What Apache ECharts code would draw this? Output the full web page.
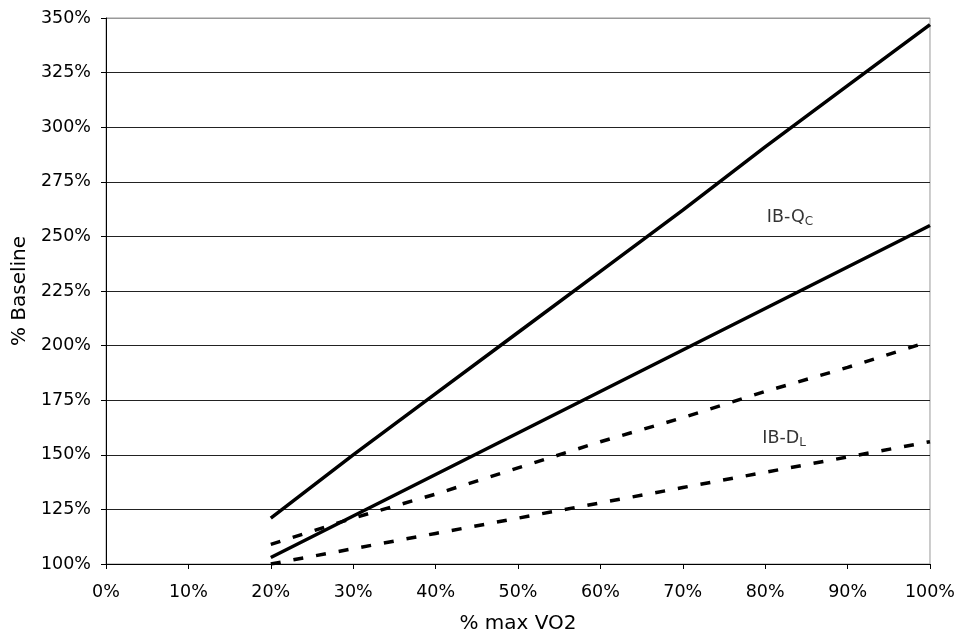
<!DOCTYPE html>
<html>
<head>
<meta charset="utf-8">
<script src="https://cdn.jsdelivr.net/npm/echarts@6/dist/echarts.min.js"></script>
<style>html,body{margin:0;padding:0;background:#fff}#c{width:958px;height:639px}</style>
</head>
<body>
<div id="c"></div>
<script>
const xValues = [20, 30, 40, 50, 60, 70, 80, 90, 100];
const solidUpper = [121, 150, 178, 206, 234, 262, 291, 319, 347];
const solidLower = [103, 122, 141, 160, 179, 198, 217, 236, 255];
const dashedUpper = [109, 121, 132, 144, 156, 167, 179, 190, 202];
const dashedLower = [100, 107, 114, 121, 128, 135, 142, 149, 156];
const annotations = [
  { x: 83, y: 258.5, main: 'IB-Q', sub: 'C' },
  { x: 82.3, y: 157.5, main: 'IB-D', sub: 'L' }
];
const xTitle = '% max VO2';
const yTitle = '% Baseline';

const font = 'DejaVu Sans, Verdana, sans-serif';
function pairs(vals) { return xValues.map((x, i) => [x, vals[i]]); }

const gridColors = ['#000', '#222', '#222', '#222', '#222', '#222', '#222', '#222', '#222', '#222', '#999'];

const chart = echarts.init(document.getElementById('c'));
chart.setOption({
  animation: false,
  grid: { left: 106, right: 27, top: 18, bottom: 72, show: true, borderColor: '#999', borderWidth: 1 },
  xAxis: {
    type: 'value', min: 0, max: 100, interval: 10,
    name: xTitle, nameLocation: 'middle', nameGap: 50,
    nameTextStyle: { fontFamily: font, fontSize: 20, color: '#000' },
    axisLine: { show: true, onZero: false, lineStyle: { color: '#000', width: 1 } },
    axisTick: { show: true, length: 5, lineStyle: { color: '#000' } },
    axisLabel: { formatter: v => v + '%', fontFamily: font, fontSize: 17.5, color: '#000', margin: 19 },
    splitLine: { show: false }
  },
  yAxis: {
    type: 'value', min: 100, max: 350, interval: 25,
    name: yTitle, nameLocation: 'middle', nameGap: 75,
    nameTextStyle: { fontFamily: font, fontSize: 20, color: '#000' },
    axisLine: { show: true, onZero: false, lineStyle: { color: '#000', width: 1 } },
    axisTick: { show: true, length: 5, lineStyle: { color: '#000' } },
    axisLabel: { formatter: v => v + '%', fontFamily: font, fontSize: 17.5, color: '#000', margin: 15 },
    splitLine: { show: true, lineStyle: { color: gridColors, width: 1 } }
  },
  series: [
    { type: 'line', data: pairs(solidUpper), symbol: 'none', lineStyle: { color: '#000', width: 3.5 } },
    { type: 'line', data: pairs(solidLower), symbol: 'none', lineStyle: { color: '#000', width: 3.5 } },
    { type: 'line', data: pairs(dashedUpper), symbol: 'none', lineStyle: { color: '#000', width: 3.5, type: [10, 13] } },
    { type: 'line', data: pairs(dashedLower), symbol: 'none', lineStyle: { color: '#000', width: 3.5, type: [10, 13] } },
    {
      type: 'scatter', symbolSize: 0, silent: true,
      data: annotations.map(a => ({ value: [a.x, a.y], main: a.main, sub: a.sub })),
      label: {
        show: true, position: 'inside', color: '#000',
        formatter: p => '{m|' + p.data.main + '}{s|' + p.data.sub + '}',
        rich: {
          m: { fontFamily: font, fontSize: 17.5, color: '#000' },
          s: { fontFamily: font, fontSize: 12, color: '#000', padding: [8, 0, 0, 0] }
        }
      }
    }
  ]
});
</script>
</body>
</html>
